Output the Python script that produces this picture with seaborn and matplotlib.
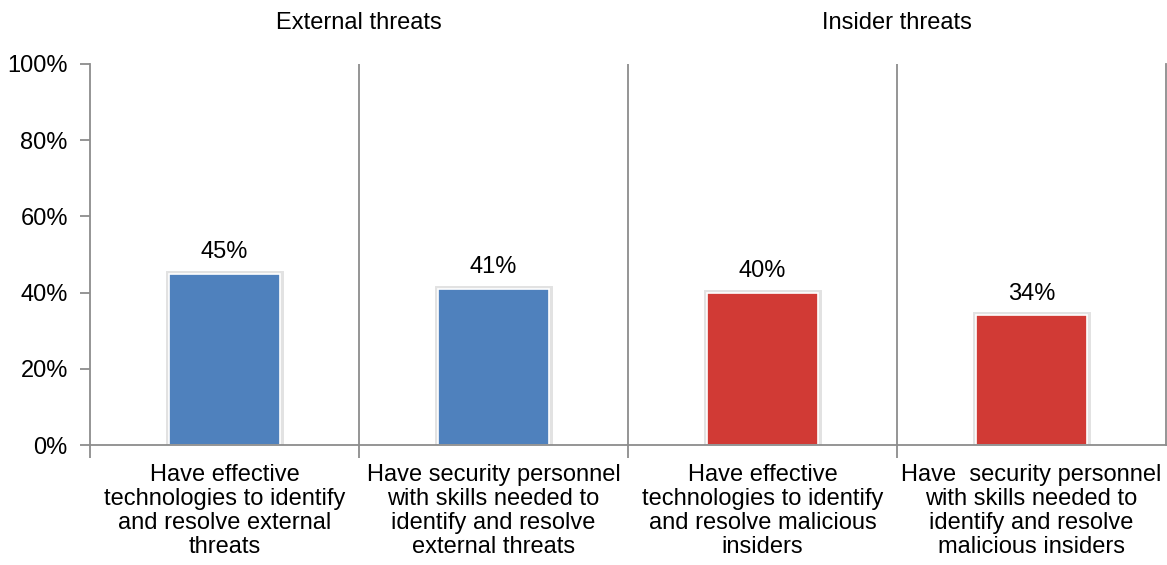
import matplotlib
matplotlib.use("Agg")
import matplotlib.pyplot as plt
import matplotlib.patheffects as pe
import seaborn as sns
import pandas as pd

categories = [
    "Have effective\ntechnologies to identify\nand resolve external\nthreats",
    "Have security personnel\nwith skills needed to\nidentify and resolve\nexternal threats",
    "Have effective\ntechnologies to identify\nand resolve malicious\ninsiders",
    "Have  security personnel\nwith skills needed to\nidentify and resolve\nmalicious insiders",
]
values = [45, 41, 40, 34]
groups = ["External threats", "Insider threats"]
bar_colors = ["#4F81BD", "#4F81BD", "#D13A35", "#D13A35"]
y_ticks = [0, 20, 40, 60, 80, 100]

sns.set_theme(style="white")
plt.rcParams["font.family"] = ["Liberation Sans", "DejaVu Sans"]

df = pd.DataFrame({"category": categories, "value": values})

fig = plt.figure(figsize=(11.67, 5.65), dpi=100)
ax = fig.add_axes([90 / 1167, 1 - 445 / 565, 1076 / 1167, (445 - 64) / 565])

sns.barplot(data=df, x="category", y="value", hue="category",
            palette=bar_colors, width=0.41, legend=False, ax=ax,
            edgecolor="white", linewidth=1.2, saturation=1)

for patch in ax.patches:
    patch.set_path_effects([pe.withStroke(linewidth=5, foreground="#e2e2e2")])

FS = 17
for i, v in enumerate(values):
    ax.text(i, v + 2.8, f"{v}%", ha="center", va="bottom", fontsize=FS, color="black")

grey = "#8c8c8c"
ax.set_xlim(-0.5, 3.5)
ax.set_ylim(0, 100)
ax.set_yticks(y_ticks)
ax.set_yticklabels([f"{t}%" for t in y_ticks], fontsize=FS, color="black")
ax.set_xticks(range(len(categories)))
ax.set_xticklabels(categories, fontsize=FS, color="black", linespacing=1.1)
ax.set_xticks([-0.5, 0.5, 1.5, 2.5], minor=True)
ax.tick_params(axis="x", which="major", bottom=True, length=0, pad=14)
ax.tick_params(axis="x", which="minor", bottom=True, length=9, width=1.3,
               color=grey, direction="out")
ax.tick_params(axis="y", left=True, length=7, width=1.3, color=grey,
               direction="out", pad=9)
ax.set_xlabel("")
ax.set_ylabel("")

for x in [0.5, 1.5, 2.5]:
    ax.axvline(x, color=grey, linewidth=1.3, zorder=0)

for side in ["left", "bottom", "right"]:
    ax.spines[side].set_visible(True)
    ax.spines[side].set_color(grey)
    ax.spines[side].set_linewidth(1.3)
ax.spines["top"].set_visible(False)

for j, g in enumerate(groups):
    ax.text(0.5 + 2 * j, 1.08, g, transform=ax.get_xaxis_transform(),
            ha="center", va="bottom", fontsize=FS, color="black")

fig.savefig("out.png", dpi=100, facecolor="white")
